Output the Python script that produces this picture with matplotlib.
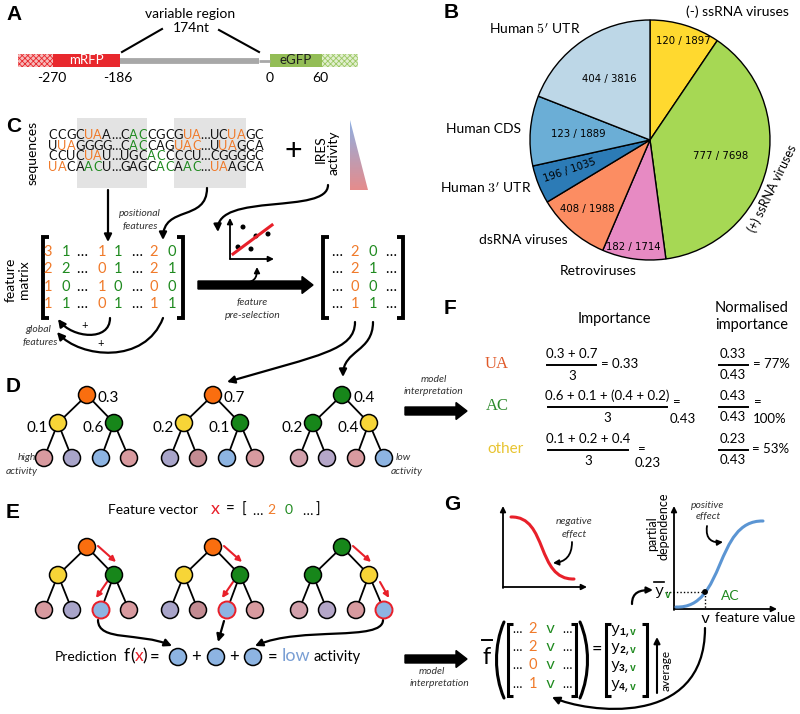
import matplotlib
matplotlib.use('Agg')
import matplotlib.pyplot as plt
from matplotlib.patches import Circle, Rectangle, Polygon, FancyArrowPatch, FancyArrow
from matplotlib.path import Path
from matplotlib.colors import LinearSegmentedColormap
import numpy as np

plt.rcParams['font.family'] = ['Lato', 'DejaVu Sans']
plt.rcParams['hatch.linewidth'] = 0.6
plt.rcParams['mathtext.fontset'] = 'cm'

# ---------------- data ----------------
pie_labels = ["(-) ssRNA viruses", "(+) ssRNA viruses", "Retroviruses", "dsRNA viruses",
              "Human $3'$ UTR", "Human CDS", "Human $5'$ UTR"]
pie_ires = [120, 777, 182, 408, 196, 123, 404]
pie_total = [1897, 7698, 1714, 1988, 1035, 1889, 3816]
pie_colors = ['#ffd92f', '#a6d854', '#e78ac3', '#fc8d62', '#2c7bb6', '#6baed6', '#bdd7e7']

seq_rows = ["CCGCUAA…CACCGCGUA…UCUAGC",
            "UUAGGGG…CACCAGUAC…UUAGCA",
            "CCUCUAU…UGCACCCCU…CGGGGC",
            "UACAACU…GAGCACAAC…UAAGCA"]
seq_masks = ["....oo...gg....oo...oo..",
             ".oo......gg...ooo..oo...",
             "....oo.....gg...........",
             "oo..gg......gg.gg.oo...."]

feat_matrix = [["3", "1", "…", "1", "1", "…", "2", "0"],
               ["2", "2", "…", "0", "1", "…", "2", "1"],
               ["1", "0", "…", "1", "0", "…", "0", "0"],
               ["1", "1", "…", "0", "1", "…", "1", "1"]]
sel_matrix = [["2", "0"], ["2", "1"], ["0", "0"], ["1", "1"]]
pd_matrix_col = ["2", "2", "0", "1"]

tree_root_vals = ["0.3", "0.7", "0.4"]
tree_left_vals = ["0.1", "0.2", "0.2"]
tree_right_vals = ["0.6", "0.1", "0.4"]

imp_features = ["UA", "AC", "other"]
imp_numer = ["0.3 + 0.7", "0.6 + 0.1 + (0.4 + 0.2)", "0.1 + 0.2 + 0.4"]
imp_value = ["0.33", "0.43", "0.23"]
imp_norm = ["77%", "100%", "53%"]

# ---------------- colours ----------------
ORANGE = '#f07a2a'
GREEN = '#1f8a1f'
C_ROOT_O = '#fa6e0f'
C_YEL = '#f7d537'
C_GRN = '#17861a'
C_PINK = '#d89a9f'
C_LAV = '#a8a4c9'
C_LBLUE = '#8db4e2'
C_MAUVE = '#c38b92'
C_LAV2 = '#b4a6c8'
C_PINK2 = '#d2a0ab'

fig = plt.figure(figsize=(8, 7.14), dpi=100)

# ---------------- pie (panel B) ----------------
pcx, pcy, pr = 650, 140, 120
pax = fig.add_axes([(pcx - pr) / 800, (714 - pcy - pr) / 714, 2 * pr / 800, 2 * pr / 714])
pax.pie(pie_total, colors=pie_colors, startangle=90, counterclock=False,
        wedgeprops=dict(edgecolor='black', linewidth=1.0))
pax.set_xlim(-1, 1)
pax.set_ylim(-1, 1)
pax.axis('off')

# ---------------- overlay axes in pixel coordinates ----------------
ax = fig.add_axes([0, 0, 1, 1])
ax.patch.set_alpha(0)
ax.set_xlim(0, 800)
ax.set_ylim(714, 0)
ax.axis('off')


def T(x, y, s, size=10, color='k', ha='center', va='center', **kw):
    return ax.text(x, y, s, fontsize=size, color=color, ha=ha, va=va, **kw)


def letter(x, y, s):
    T(x, y, s, size=15, weight='bold', family=['Liberation Sans', 'DejaVu Sans'], ha='left')


def curve(pts, lw=1.6, color='k', ms=11, style='-|>'):
    codes = [Path.MOVETO] + [Path.CURVE4] * (len(pts) - 1)
    ax.add_patch(FancyArrowPatch(path=Path(pts, codes), arrowstyle=style, mutation_scale=ms,
                                 lw=lw, color=color, shrinkA=0, shrinkB=0))


def arrow(p1, p2, lw=1.6, color='k', ms=11):
    ax.add_patch(FancyArrowPatch(p1, p2, arrowstyle='-|>', mutation_scale=ms, lw=lw,
                                 color=color, shrinkA=0, shrinkB=0))


def bracket(x, y0, y1, side, w=6, lw=2.8):
    d = w if side == 'l' else -w
    ax.plot([x + d, x, x, x + d], [y0, y0, y1, y1], color='k', lw=lw, solid_joinstyle='miter',
            solid_capstyle='butt')


def big_arrow(x0, x1, y):
    ax.add_patch(FancyArrow(x0, y, x1 - x0, 0, width=8, head_width=17, head_length=11,
                            length_includes_head=True, color='k'))


MONO = ['Liberation Mono', 'DejaVu Sans Mono']
SERIF = ['Liberation Serif', 'DejaVu Serif']
ITAL = dict(size=7.5, style='italic', color='#333333')

# ---------------- panel A ----------------
letter(6, 14, 'A')
ax.add_patch(Rectangle((18, 54), 35, 13, facecolor='#f6b9b9', edgecolor='#e8282d', hatch='xxxxxx', lw=0))
ax.add_patch(Rectangle((53, 54), 67, 13, facecolor='#e8282d', lw=0))
T(86, 60.5, 'mRFP', size=9.5, color='white')
ax.plot([120, 259], [60.5, 60.5], color='#a8a8a8', lw=4.2, solid_capstyle='butt')
ax.plot([259, 270], [60.5, 60.5], color='#a8a8a8', lw=2.0, solid_capstyle='butt')
ax.add_patch(Rectangle((270, 54), 52, 13, facecolor='#93bd56', lw=0))
ax.add_patch(Rectangle((322, 54), 36, 13, facecolor='#e2efcf', edgecolor='#9cc865', hatch='xxxxxx', lw=0))
T(296, 60.5, 'eGFP', size=9.5, color='#1f1f1f')
for xx, s in [(52, '-270'), (118, '-186'), (270, '0'), (320, '60')]:
    T(xx, 78, s, size=10)
T(190, 14, 'variable region', size=10)
T(191, 28, '174nt', size=10)
ax.plot([122, 162], [52, 29], color='k', lw=1.5)
ax.plot([259, 219], [52, 30], color='k', lw=1.5)

# ---------------- panel B labels ----------------
letter(444, 13, 'B')
T(737, 12, pie_labels[0], size=10)
T(772, 188, pie_labels[1], size=9, rotation=64)
T(598, 271, pie_labels[2], size=10)
T(523, 240, pie_labels[3], size=10)
T(486, 188, pie_labels[4], size=10)
T(484, 129, pie_labels[5], size=10)
T(535, 29, pie_labels[6], size=10)
inner_pos = [(683, 41, 0), (721, 156, 0), (633, 247, 0), (587, 209, 0), (570, 170, 19), (578, 134, 0),
             (609, 79, 0)]
for (xx, yy, rot), a, b in zip(inner_pos, pie_ires, pie_total):
    T(xx, yy, f'{a} / {b}', size=7.3, rotation=rot, family=['DejaVu Sans'])

# ---------------- panel C ----------------
letter(6, 126, 'C')
ax.add_patch(Rectangle((77, 118), 70, 70, facecolor='#e3e3e3', lw=0))
ax.add_patch(Rectangle((174, 118), 72, 70, facecolor='#e3e3e3', lw=0))
T(33, 153, 'sequences', size=10, rotation=90)
pitch = (259 - 53) / 23
cmap_seq = {'.': '#111111', 'o': ORANGE, 'g': GREEN}
for r, (row, mask) in enumerate(zip(seq_rows, seq_masks)):
    yy = 135 + r * 10.7
    for i, (ch, m) in enumerate(zip(row, mask)):
        T(53 + i * pitch, yy, ch, size=9.3, color=cmap_seq[m])
T(293, 151, '+', size=22)
T(321, 149, 'IRES', size=10, rotation=90)
T(334, 153, 'activity', size=10, rotation=90)
tri = Polygon([(350, 120), (350, 190), (368, 190)], closed=True, facecolor='none', lw=0)
ax.add_patch(tri)
grad = np.linspace(0, 1, 100).reshape(-1, 1)
im = ax.imshow(grad, extent=(350, 368, 190, 120), aspect='auto',
               cmap=LinearSegmentedColormap.from_list('ires', ['#8fb0e3', '#e58c8c']), zorder=1)
im.set_clip_path(tri)

arrow((108, 190), (108, 242))
T(140, 214, 'positional', **ITAL)
T(140, 227, 'features', **ITAL)
curve([(207, 188), (207, 222), (163, 205), (163, 240)])
curve([(328, 185), (328, 215), (216, 192), (218, 232)])

# feature matrix
T(11, 280, 'feature', size=10, rotation=90)
T(24, 280, 'matrix', size=10, rotation=90)
bracket(43, 237, 318, 'l')
bracket(183, 237, 318, 'r')
col_x = [48, 66, 82, 102, 118, 137, 154, 172]
col_c = [ORANGE, GREEN, 'k', ORANGE, GREEN, 'k', ORANGE, GREEN]
for r, row in enumerate(feat_matrix):
    yy = 252 + r * 17.3
    for xx, cc, v in zip(col_x, col_c, row):
        T(xx, yy, v, size=10.5, color=cc)

big_arrow(198, 313, 285)
T(252, 303, 'feature', **ITAL)
T(253, 316, 'pre-selection', **ITAL)

# mini scatter
arrow((230, 259), (230, 218), lw=1.3, ms=8)
arrow((230, 259), (274, 259), lw=1.3, ms=8)
ax.plot([233, 272], [254, 225], color='#e8202a', lw=2.2)
for px, py in [(243, 227), (238, 247), (251, 249), (256, 236), (268, 234)]:
    ax.add_patch(Circle((px, py), 1.8, color='k'))
curve([(240, 283), (255, 283), (257, 278), (257, 267)], lw=1.3, ms=8)

# selected matrix
bracket(323, 237, 318, 'l')
bracket(403, 237, 318, 'r')
for r, row in enumerate(sel_matrix):
    yy = 252 + r * 17.3
    T(337, yy, '…', size=10.5)
    T(355, yy, row[0], size=10.5, color=ORANGE)
    T(373, yy, row[1], size=10.5, color=GREEN)
    T(391, yy, '…', size=10.5)

# global features curves
curve([(110, 318), (110, 342), (72, 338), (58, 319)], lw=1.6)
T(85, 325, '+', size=8)
curve([(163, 318), (145, 365), (80, 358), (57, 332)], lw=1.6)
T(101, 344, '+', size=8)
T(38, 330, 'global', **ITAL)
T(40, 343, 'features', **ITAL)

# curves to trees
curve([(355, 322), (355, 350), (320, 355), (227, 382)])
curve([(373, 322), (373, 352), (343, 350), (343, 377)])

# ---------------- trees ----------------
root_x = [87, 213, 342]
root_c = [[C_ROOT_O, C_YEL, C_GRN], [C_ROOT_O, C_YEL, C_GRN], [C_GRN, C_GRN, C_YEL]]
leaf_c = [[C_PINK, C_LAV, C_LBLUE, C_PINK], [C_LAV, C_MAUVE, C_LBLUE, C_PINK],
          [C_PINK2, C_LAV2, C_PINK, C_LBLUE]]
R = 8.5


def draw_tree(rx, ry, cols, leaves, red_leaf=None):
    mids = [(rx - 29, ry + 28), (rx + 27, ry + 28)]
    lvs = [(mids[0][0] - 14, ry + 63), (mids[0][0] + 14, ry + 63),
           (mids[1][0] - 13, ry + 63), (mids[1][0] + 15, ry + 63)]
    for m in mids:
        ax.plot([rx, m[0]], [ry, m[1]], color='k', lw=1.3, zorder=2)
    for i, l in enumerate(lvs):
        m = mids[i // 2]
        ax.plot([m[0], l[0]], [m[1], l[1]], color='k', lw=1.3, zorder=2)
    ax.add_patch(Circle((rx, ry), R, facecolor=cols[0], edgecolor='k', lw=1.1, zorder=3))
    ax.add_patch(Circle(mids[0], R, facecolor=cols[1], edgecolor='k', lw=1.1, zorder=3))
    ax.add_patch(Circle(mids[1], R, facecolor=cols[2], edgecolor='k', lw=1.1, zorder=3))
    for i, (l, c) in enumerate(zip(lvs, leaves)):
        ec = '#e8202a' if red_leaf == i else 'k'
        ax.add_patch(Circle(l, R, facecolor=c, edgecolor=ec, lw=1.4 if red_leaf == i else 1.1, zorder=3))
    return mids, lvs


letter(6, 386, 'D')
for k in range(3):
    mids, lvs = draw_tree(root_x[k], 395, root_c[k], leaf_c[k])
    T(root_x[k] + 11, 398, tree_root_vals[k], size=11, ha='left')
    T(mids[0][0] - 10, 428, tree_left_vals[k], size=11, ha='right')
    T(mids[1][0] - 10, 428, tree_right_vals[k], size=11, ha='right')
T(27, 458, 'high', **ITAL)
T(22, 471, 'activity', **ITAL)
T(403, 458, 'low', **ITAL)
T(407, 471, 'activity', **ITAL)

big_arrow(405, 467, 411)
T(434, 379, 'model', **ITAL)
T(434, 392, 'interpretation', **ITAL)

# ---------------- panel F ----------------
letter(444, 308, 'F')
T(614, 319, 'Importance', size=10.5)
T(752, 308, 'Normalised', size=10.5)
T(752, 325, 'importance', size=10.5)
feat_col = ['#e05a2a', '#2e8b2e', '#e8c431']
row_y = [365, 407, 450]
numer_x = [572, 607, 588]
line_x = [(547, 596), (548, 667), (548, 628)]
for i in range(3):
    yy = row_y[i]
    T(497 if i < 2 else 505, yy - 1, imp_features[i], size=12 if i < 2 else 11, color=feat_col[i],
      family=SERIF if i < 2 else None)
    T(numer_x[i], yy - 11, imp_numer[i], size=9.5)
    ax.plot(line_x[i], [yy, yy], color='k', lw=1.4)
    T(numer_x[i], yy + 11, '3', size=9.5)
    ax.plot([719, 748], [yy, yy], color='k', lw=1.4)
    T(733, yy - 11, imp_value[i], size=9.5)
    T(733, yy + 10, '0.43', size=9.5)
T(620, 364, '= ' + imp_value[0], size=9.5)
T(771, 364, '= ' + imp_norm[0], size=9.5)
T(677, 402, '=', size=9.5)
T(683, 419, imp_value[1], size=9.5)
T(758, 402, '=', size=9.5)
T(770, 419, imp_norm[1], size=9.5)
T(642, 449, '=', size=9.5)
T(648, 463, imp_value[2], size=9.5)
T(771, 449, '= ' + imp_norm[2], size=9.5)

# ---------------- panel E ----------------
letter(6, 512, 'E')
T(153, 510, 'Feature vector', size=10)
T(215, 509, 'x', size=13, color='#e8202a')
T(230, 510, '=', size=11)
T(244, 510, '[', size=11)
T(257, 511, '…', size=10)
T(271, 510, '2', size=10, color=ORANGE)
T(289, 510, '0', size=10, color=GREEN)
T(307, 511, '…', size=10)
T(318, 510, ']', size=11)
red_leaves = [2, 2, 3]
for k in range(3):
    mids, lvs = draw_tree(root_x[k], 547, root_c[k], leaf_c[k], red_leaf=red_leaves[k])
    rx = root_x[k]
    m = mids[1]
    arrow((rx + 11, 546), (m[0] + 2, 562), color='#e8202a', lw=1.5, ms=8)
    lf = lvs[red_leaves[k]]
    if red_leaves[k] == 2:
        arrow((m[0] - 7, 582), (lf[0] - 5, 598), color='#e8202a', lw=1.5, ms=8)
    else:
        arrow((m[0] + 11, 582), (lf[0] + 5, 598), color='#e8202a', lw=1.5, ms=8)

curve([(98, 620), (98, 642), (140, 632), (172, 646)])
arrow((224, 621), (218, 642))
curve([(383, 620), (383, 642), (300, 626), (255, 646)])

T(86, 657, 'Prediction', size=10)
T(127, 656, 'f', size=12.5)
T(133, 656, '(', size=12.5)
T(139, 656, 'x', size=12.5, color='#e8202a')
T(145, 656, ')', size=12.5)
T(155, 657, '=', size=12)
for cx in [178, 216, 253]:
    ax.add_patch(Circle((cx, 657), 8.5, facecolor=C_LBLUE, edgecolor='k', lw=1.1))
T(196, 657, '+', size=12)
T(234, 657, '+', size=12)
T(273, 657, '=', size=12)
T(296, 656, 'low', size=13, color='#7a9fd4')
T(337, 657, 'activity', size=10.5)

big_arrow(405, 467, 659)
T(432, 672, 'model', **ITAL)
T(440, 684, 'interpretation', **ITAL)

# ---------------- panel G ----------------
letter(444, 504, 'G')
# negative effect plot
arrow((503, 588), (503, 506), lw=1.3, ms=8)
arrow((503, 587), (587, 587), lw=1.3, ms=8)
ax.add_patch(FancyArrowPatch(path=Path([(511, 517), (548, 516), (536, 580), (574, 579)],
                                       [Path.MOVETO, Path.CURVE4, Path.CURVE4, Path.CURVE4]),
                             arrowstyle='-', lw=2.2, color='#e8202a'))
T(574, 522, 'negative', **ITAL)
T(574, 535, 'effect', **ITAL)
curve([(572, 542), (572, 556), (565, 562), (553, 563)], lw=1.3, ms=8)

# positive effect plot
arrow((674, 610), (674, 506), lw=1.3, ms=8)
arrow((674, 609), (777, 609), lw=1.3, ms=8)
ax.add_patch(FancyArrowPatch(path=Path([(676, 607), (726, 609), (714, 520), (763, 521)],
                                       [Path.MOVETO, Path.CURVE4, Path.CURVE4, Path.CURVE4]),
                             arrowstyle='-', lw=2.2, color='#5b95d3'))
T(652, 534, 'partial', size=9, rotation=90)
T(664, 526, 'dependence', size=9, rotation=90)
T(708, 505, 'positive', **ITAL)
T(708, 517, 'effect', **ITAL)
curve([(707, 526), (705, 540), (713, 543), (723, 542)], lw=1.3, ms=8)
ax.plot([666, 705], [592, 592], color='k', lw=1.0, ls=(0, (1, 1.5)))
ax.plot([705, 705], [592, 609], color='k', lw=1.0, ls=(0, (1, 1.5)))
ax.add_patch(Circle((705, 592), 2.2, color='k', zorder=4))
T(659, 591, 'y', size=11, family=MONO)
ax.plot([654, 664], [582, 582], color='k', lw=1.2)
T(668, 595, 'v', size=7, color=GREEN, family=MONO, weight='bold')
T(730, 596, 'AC', size=10, color=GREEN)
T(705, 619, 'v', size=11, family=MONO)
T(755, 618, 'feature value', size=10)

# f-bar matrix
T(487, 657, 'f', size=17)
ax.plot([482, 492], [640, 640], color='k', lw=1.4)
for pts in ([(504, 622), (494, 645), (494, 675), (504, 698)], [(580, 622), (590, 645), (590, 675), (580, 698)]):
    ax.add_patch(FancyArrowPatch(path=Path(pts, [Path.MOVETO, Path.CURVE4, Path.CURVE4, Path.CURVE4]),
                                 arrowstyle='-', lw=2.2, color='k'))
bracket(508, 624, 696, 'l', w=5, lw=2.2)
bracket(576, 624, 696, 'r', w=5, lw=2.2)
for r, v in enumerate(pd_matrix_col):
    yy = 629 + r * 18.2
    T(517, yy, '…', size=9)
    T(533, yy, v, size=10.5, color=ORANGE)
    T(550, yy, 'v', size=11, color=GREEN, family=MONO)
    T(567, yy, '…', size=9)
T(597, 649, '=', size=13)
bracket(606, 624, 696, 'l', w=5, lw=2.2)
bracket(647, 624, 696, 'r', w=5, lw=2.2)
for r in range(4):
    yy = 629 + r * 18.2
    T(611, yy, 'y', size=11, family=MONO, ha='left')
    T(619, yy + 3, f'{r + 1},', size=7, family=MONO, weight='bold', ha='left')
    T(630, yy + 3, 'v', size=7, family=MONO, weight='bold', color=GREEN, ha='left')
arrow((657, 693), (657, 637), lw=1.5, ms=9)
T(666, 670, 'average', size=8.5, rotation=90)
curve([(632, 604), (632, 592), (640, 590), (653, 590)], lw=1.6, ms=9)
curve([(705, 628), (705, 730), (585, 712), (552, 697)], lw=1.6)

fig.savefig('out.png', dpi=100)
